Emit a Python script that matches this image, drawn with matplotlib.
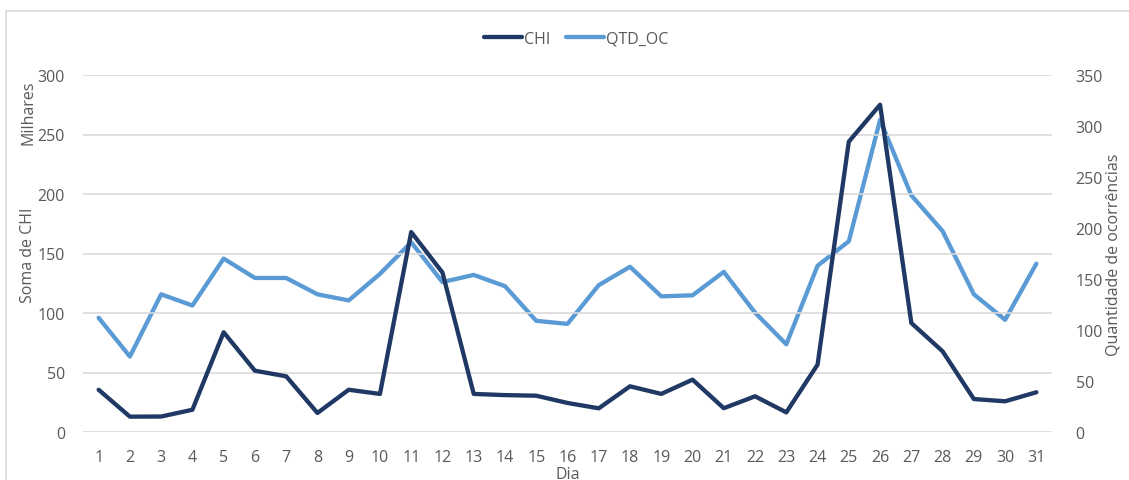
import matplotlib
matplotlib.use("Agg")
import matplotlib.pyplot as plt
from matplotlib.patches import Rectangle

plt.rcParams['font.family'] = ['Open Sans', 'DejaVu Sans']

dias = list(range(1, 32))
chi = [35.5, 12.9, 13, 18.7, 83.8, 51.5, 46.8, 16, 35.5, 32,
       168, 134, 32, 31, 30.5, 24.4, 19.9, 38.4, 32, 44,
       20, 30, 16.5, 56.6, 244, 275, 91.6, 67.8, 27.7, 25.8, 33.4]
qtd_oc = [112, 74, 135, 124, 170, 151, 151, 135, 129, 155,
          186, 147, 154, 143, 109, 106, 144, 162, 133, 134,
          157, 117, 86, 163, 187, 306, 232, 197, 135, 110, 165]

DARK = '#203864'
LIGHT = '#5B9BD5'
GREY_TXT = '#595959'
GRID = '#D9D9D9'
FS = 11.5

fig = plt.figure(figsize=(11.29, 4.81), dpi=100)
fig.patches.append(Rectangle((6 / 1129, -0.05), 1.0, 1 - 12 / 481 + 0.05,
                             transform=fig.transFigure, fill=False,
                             edgecolor='#D9D9D9', linewidth=1.2))

ax = fig.add_axes([83 / 1129, 1 - 433 / 481, (1052 - 83) / 1129, (433 - 76) / 481])
ax2 = ax.twinx()

l1, = ax.plot(dias, chi, color=DARK, linewidth=3.1, label='CHI', solid_capstyle='round', zorder=3)
l2, = ax2.plot(dias, qtd_oc, color=LIGHT, linewidth=3.1, label='QTD_OC', solid_capstyle='round', zorder=2)
ax.set_zorder(ax2.get_zorder() + 1)
ax.patch.set_visible(False)

ax.set_xlim(0.5, 31.5)
ax.set_ylim(0, 300)
ax2.set_ylim(0, 350)
ax.set_yticks(range(0, 301, 50))
ax2.set_yticks(range(0, 351, 50))
ax.set_xticks(dias)

ax.grid(axis='y', color=GRID, linewidth=1.2)
ax.set_axisbelow(True)
for a in (ax, ax2):
    for s in a.spines.values():
        s.set_visible(False)
    a.tick_params(length=0, labelsize=FS, colors=GREY_TXT)
ax.tick_params(axis='y', pad=13)
ax2.tick_params(axis='y', pad=17)
ax.tick_params(axis='x', pad=12)

fig.text(28 / 1129, 1 - 113 / 481, 'Milhares', rotation=90, ha='center', va='center',
         fontsize=FS, color=GREY_TXT)
fig.text(28 / 1129, 1 - 255 / 481, 'Soma de CHI', rotation=90, ha='center', va='center',
         fontsize=FS, color=GREY_TXT)
fig.text(1114 / 1129, 1 - 255 / 481, 'Quantidade de ocorrências', rotation=90, ha='center',
         va='center', fontsize=FS, color=GREY_TXT)
fig.text(568 / 1129, 1 - 475 / 481, 'Dia', ha='center', va='center',
         fontsize=FS, color=GREY_TXT)

leg = fig.legend(handles=[l1, l2], loc='center', bbox_to_anchor=(576 / 1129, 1 - 40 / 481),
                 ncol=2, frameon=False, fontsize=FS, handlelength=2.4,
                 handletextpad=0.1, columnspacing=1.0)
for t in leg.get_texts():
    t.set_color(GREY_TXT)

fig.savefig('out.png', dpi=100)
